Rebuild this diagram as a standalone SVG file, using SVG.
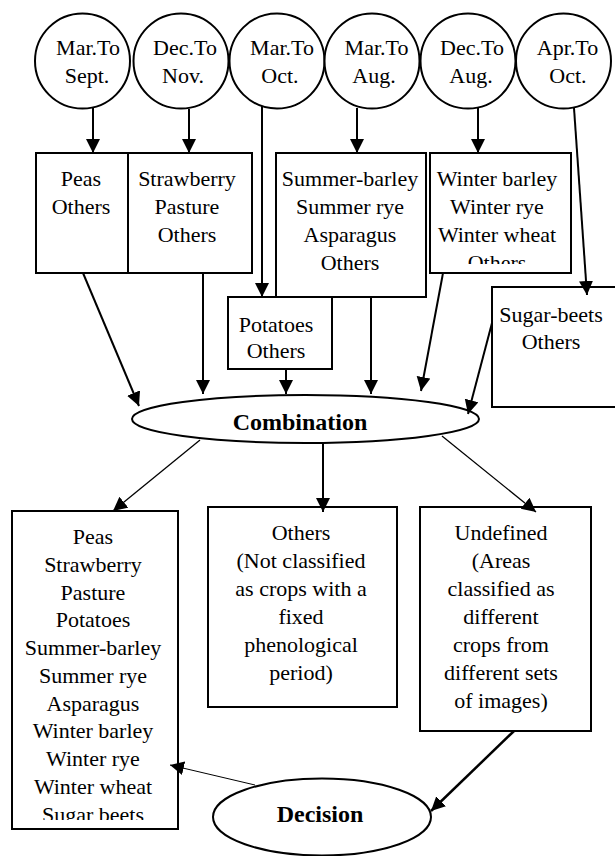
<svg xmlns="http://www.w3.org/2000/svg" width="615" height="856" viewBox="0 0 615 856" font-family="'Liberation Serif', 'Times New Roman', 'DejaVu Serif', serif">
<style>
.s{fill:#fff;stroke:#000;stroke-width:2}
text{font-family:'Liberation Serif','Times New Roman','DejaVu Serif',serif;font-size:22px;fill:#000;text-anchor:middle}
.b{font-weight:bold;font-size:24px}
.c{stroke:#000;stroke-width:2;fill:none;marker-end:url(#ah)}
.t{stroke-width:1.3}
.th{stroke-width:2.5}
.h{stroke-width:1}
</style>
<defs>
<marker id="ah" markerUnits="userSpaceOnUse" markerWidth="15" markerHeight="15" refX="14" refY="7" orient="auto"><path d="M0,0 L14,7 L0,14 z" fill="#000"/></marker>
<clipPath id="cw"><rect x="430" y="153" width="141" height="111"/></clipPath>
<clipPath id="cl"><rect x="12" y="511" width="166" height="309"/></clipPath>
</defs>
<g id="c1"><circle class="s" cx="82.5" cy="61" r="47.5"/><text x="88" y="55">Mar.To</text><text x="87" y="83">Sept.</text></g>
<g id="c2"><circle class="s" cx="181" cy="61" r="47.5"/><text x="185" y="55">Dec.To</text><text x="183" y="83">Nov.</text></g>
<g id="c3"><circle class="s" cx="277" cy="61" r="47.5"/><text x="282" y="55">Mar.To</text><text x="280" y="83">Oct.</text></g>
<g id="c4"><circle class="s" cx="372" cy="61" r="47.5"/><text x="376.5" y="55">Mar.To</text><text x="374" y="83">Aug.</text></g>
<g id="c5"><circle class="s" cx="468" cy="61" r="47.5"/><text x="472" y="55">Dec.To</text><text x="471" y="83">Aug.</text></g>
<g id="c6"><circle class="s" cx="563.5" cy="61" r="47.5"/><text x="567.5" y="55">Apr.To</text><text x="568" y="83">Oct.</text></g>
<g id="b-peas"><rect class="s" x="36" y="153" width="92" height="120"/><text x="81" y="186">Peas</text><text x="81" y="214">Others</text></g>
<g id="b-straw"><rect class="s" x="128" y="153" width="124" height="120"/><text x="187" y="186">Strawberry</text><text x="187" y="214">Pasture</text><text x="187" y="242">Others</text></g>
<g id="b-summer"><rect class="s" x="276" y="153" width="150" height="144"/><text x="350" y="186">Summer-barley</text><text x="350" y="214">Summer rye</text><text x="350" y="242">Asparagus</text><text x="350" y="270">Others</text></g>
<g id="b-winter"><rect class="s" x="430" y="153" width="141" height="120"/><g clip-path="url(#cw)"><text x="497" y="186">Winter barley</text><text x="497" y="214">Winter rye</text><text x="497" y="242">Winter wheat</text><text x="497" y="270">Others</text></g></g>
<g id="b-potatoes"><rect class="s" x="228" y="297" width="104" height="72"/><text x="276" y="332">Potatoes</text><text x="276" y="358">Others</text></g>
<g id="b-sugar"><rect class="s" x="492" y="287" width="130" height="120"/><text x="551" y="322">Sugar-beets</text><text x="551" y="349">Others</text></g>
<g id="combination"><ellipse class="s" cx="305.5" cy="419" rx="173.5" ry="24"/><text class="b" x="300" y="430">Combination</text></g>
<g id="b-crops"><rect class="s" x="12" y="511" width="166" height="318"/><g clip-path="url(#cl)"><text x="93" y="544">Peas</text><text x="93" y="571.75">Strawberry</text><text x="93" y="599.5">Pasture</text><text x="93" y="627.25">Potatoes</text><text x="93" y="655">Summer-barley</text><text x="93" y="682.75">Summer rye</text><text x="93" y="710.5">Asparagus</text><text x="93" y="738.25">Winter barley</text><text x="93" y="766">Winter rye</text><text x="93" y="793.75">Winter wheat</text><text x="93" y="821.5">Sugar beets</text></g></g>
<g id="b-others"><rect class="s" x="208" y="507" width="189" height="200"/><text x="301" y="539.5">Others</text><text x="301" y="567.5">(Not classified</text><text x="301" y="595.5">as crops with a</text><text x="301" y="623.5">fixed</text><text x="301" y="651.5">phenological</text><text x="301" y="679.5">period)</text></g>
<g id="b-undefined"><rect class="s" x="420" y="507" width="171" height="224"/><text x="501" y="539.5">Undefined</text><text x="501" y="567.5">(Areas</text><text x="501" y="595.5">classified as</text><text x="501" y="623.5">different</text><text x="501" y="651.5">crops from</text><text x="501" y="679.5">different sets</text><text x="501" y="707.5">of images)</text></g>
<g id="decision"><ellipse class="s" cx="322" cy="817" rx="109" ry="38.5"/><text class="b" x="320" y="822">Decision</text></g>
<g id="connectors">
<path class="c" d="M93,108 L93,153"/>
<path class="c" d="M189,109 L189,153"/>
<path class="c" d="M262,106 L262,297"/>
<path class="c" d="M357,108 L357,153"/>
<path class="c" d="M478,108 L478,153"/>
<path class="c" d="M574,108 L587,295"/>
<path class="c" d="M83,273 L139,406"/>
<path class="c" d="M203,273 L203,394"/>
<path class="c" d="M286,369 L286,394"/>
<path class="c" d="M371,297 L371,394"/>
<path class="c" d="M443,273 L421,391"/>
<path class="c" d="M492,323 L468,414"/>
<path class="c t" d="M200,440 L113,511"/>
<path class="c" d="M323,443 L323,512"/>
<path class="c t" d="M442,436 L536,512"/>
<path class="c th" d="M514,731 L431,811"/>
<path class="c h" d="M255,785 L170,765"/>
</g>
</svg>
